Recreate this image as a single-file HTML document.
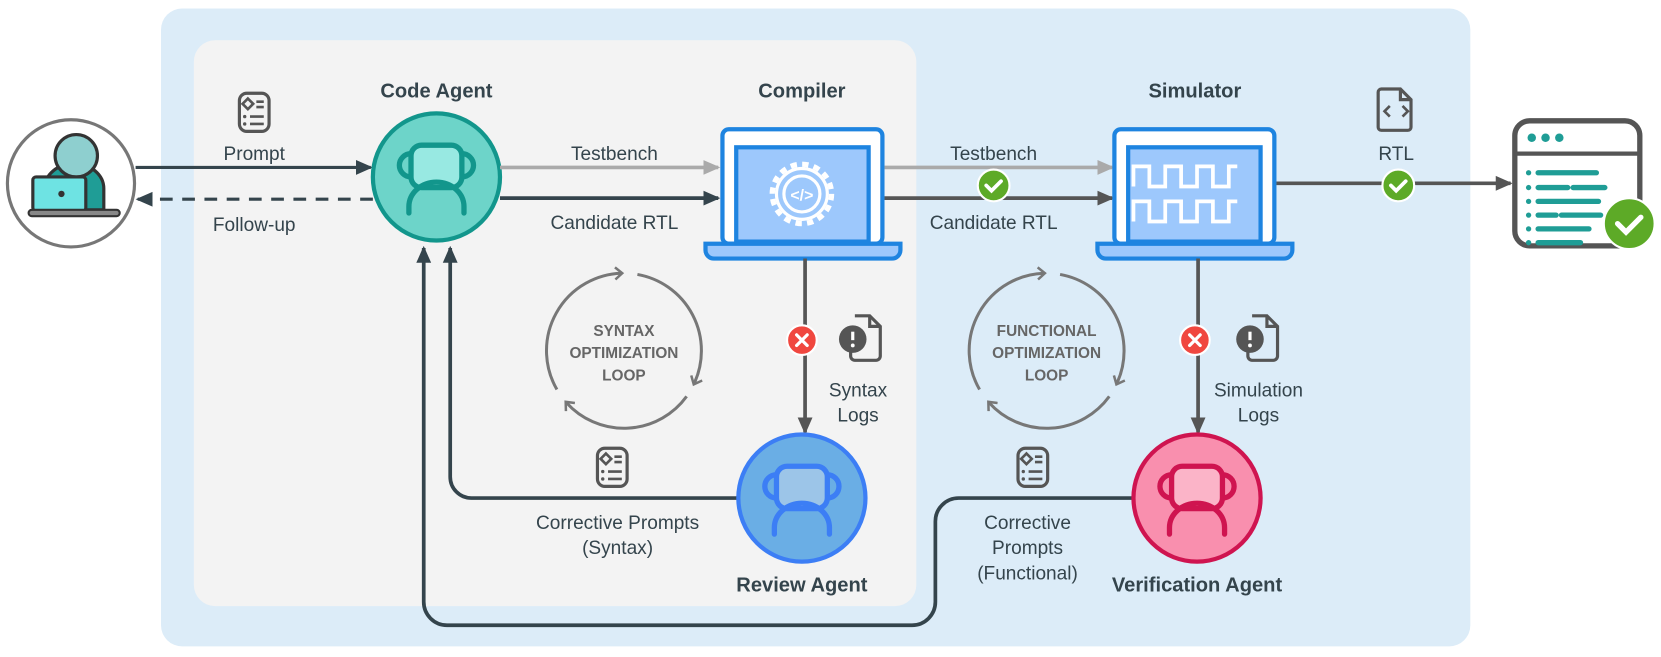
<!DOCTYPE html>
<html><head><meta charset="utf-8"><style>
html,body{margin:0;padding:0;background:#fff}
svg{display:block}
text{font-family:"Liberation Sans",sans-serif}
</style></head><body>
<svg width="1661" height="657" viewBox="0 0 1568 620" preserveAspectRatio="none" xmlns="http://www.w3.org/2000/svg">
<defs>
<marker id="ad" markerWidth="16" markerHeight="16" refX="14" refY="8" orient="auto" markerUnits="userSpaceOnUse" viewBox="0 0 16 16"><path d="M0,1L16,8L0,15z" fill="#34444c"/></marker>
<marker id="ag" markerWidth="16" markerHeight="16" refX="14" refY="8" orient="auto" markerUnits="userSpaceOnUse" viewBox="0 0 16 16"><path d="M0,1L16,8L0,15z" fill="#aaa"/></marker>
<marker id="am" markerWidth="16" markerHeight="16" refX="14" refY="8" orient="auto" markerUnits="userSpaceOnUse" viewBox="0 0 16 16"><path d="M0,1L16,8L0,15z" fill="#555"/></marker>
<marker id="al" markerWidth="14" markerHeight="14" refX="8" refY="7" orient="auto" markerUnits="userSpaceOnUse" viewBox="0 0 14 14"><path d="M2,1L9,7L2,13" fill="none" stroke="#777" stroke-width="2.5"/></marker>
<g id="prm"><rect x="-14" y="-17" width="28" height="36" rx="7" fill="none" stroke="#555" stroke-width="3"/><path d="M-6,-12 L-1,-7 L-6,-2 L-11,-7z" fill="none" stroke="#555" stroke-width="2.5"/><path d="M2,-9h7M2,-4h7M-4,5h13M-4,12h13" stroke="#555" stroke-width="2.5"/><circle cx="-9" cy="5" r="1.6" fill="#555"/><circle cx="-9" cy="12" r="1.6" fill="#555"/></g>
<g id="bot"><rect x="-24" y="-30" width="48" height="40" rx="10" fill="var(--f)" stroke="var(--s)" stroke-width="5"/><path d="M-24,-22a9,9 0 0 0 0,22M24,-22a9,9 0 0 1 0,22" fill="none" stroke="var(--s)" stroke-width="5"/><path d="M-26,34v-6a18,16 0 0 1 52,0v6" fill="none" stroke="var(--s)" stroke-width="5" stroke-linecap="round"/></g>
<g id="ok"><circle r="15" fill="#5daa27" stroke="#fff" stroke-width="2"/><path d="M-7,0l5,5l9,-9" fill="none" stroke="#fff" stroke-width="3.5" stroke-linecap="round"/></g>
<g id="no"><circle r="14" fill="#f0473f" stroke="#fff" stroke-width="2"/><path d="M-5,-5l10,10M5,-5l-10,10" stroke="#fff" stroke-width="3" stroke-linecap="round"/></g>
<g id="log"><path d="M-6,-20h14l10,10v28a4,4 0 0 1-4,4h-20a4,4 0 0 1-4,-4v-4" fill="none" stroke="#555" stroke-width="3"/><path d="M8,-20v10h10" fill="none" stroke="#555" stroke-width="3"/><circle cx="-8" cy="2" r="13" fill="#555"/><path d="M-8,-5v8" stroke="#fff" stroke-width="3"/><circle cx="-8" cy="8" r="1.8" fill="#fff"/></g>
<g id="loop" fill="none" stroke="#777" stroke-width="3">
<path d="M-66.6,38.5 A77,77 0 0 1 -2.7,-77" marker-end="url(#al)"/>
<path d="M13.4,-75.8 A77,77 0 0 1 69.8,32.5" marker-end="url(#al)"/>
<path d="M62.3,45.3 A77,77 0 0 1 -57.2,51.5" marker-end="url(#al)"/>
</g>
</defs>
<rect x="152" y="8" width="1236" height="602" rx="20" fill="#dcecf8"/>
<rect x="183" y="38" width="682" height="534" rx="20" fill="#f3f3f3"/>

<!-- user -->
<circle cx="67" cy="173" r="60" fill="#fff" stroke="#777" stroke-width="3"/>
<path d="M42,198v-20a26,22 0 0 1 56,0v20z" fill="#1f9d96" stroke="#333" stroke-width="3"/>
<circle cx="72" cy="147" r="20" fill="#8ecfcf" stroke="#333" stroke-width="3"/>
<rect x="31" y="167" width="50" height="32" rx="3" fill="#6ee3e3" stroke="#333" stroke-width="3"/>
<circle cx="58" cy="183" r="3" fill="#333"/>
<rect x="27" y="198" width="86" height="6" rx="3" fill="#888" stroke="#333" stroke-width="2"/>

<!-- left arrows -->
<line x1="128" y1="158" x2="350" y2="158" stroke="#34444c" stroke-width="3" marker-end="url(#ad)"/>
<line x1="352" y1="188" x2="130" y2="188" stroke="#34444c" stroke-width="3" stroke-dasharray="12,9" marker-end="url(#ad)"/>
<use href="#prm" x="240" y="105"/>
<text x="240" y="151" font-size="18" fill="#34444c" text-anchor="middle">Prompt</text>
<text x="240" y="218" font-size="18" fill="#34444c" text-anchor="middle">Follow-up</text>

<!-- code agent -->
<text x="412" y="92" font-size="19" font-weight="bold" fill="#34444c" text-anchor="middle">Code Agent</text>
<circle cx="412" cy="167" r="60" fill="#6dd4c9" stroke="#12968c" stroke-width="4"/>
<use href="#bot" x="412" y="167" style="--f:#98e9e2;--s:#12968c"/>

<line x1="472" y1="158" x2="678" y2="158" stroke="#aaa" stroke-width="3.5" marker-end="url(#ag)"/>
<line x1="472" y1="187" x2="678" y2="187" stroke="#34444c" stroke-width="3.5" marker-end="url(#ad)"/>
<text x="580" y="151" font-size="18" fill="#34444c" text-anchor="middle">Testbench</text>
<text x="580" y="216" font-size="18" fill="#34444c" text-anchor="middle">Candidate RTL</text>

<!-- compiler -->
<text x="757" y="92" font-size="19" font-weight="bold" fill="#34444c" text-anchor="middle">Compiler</text>
<rect x="682" y="122" width="151" height="108" rx="6" fill="#fff" stroke="#1e84e0" stroke-width="4"/>
<rect x="695" y="139" width="125" height="89" fill="#9dc8fc" stroke="#1e84e0" stroke-width="4"/>
<path d="M666,230h184v6a8,8 0 0 1-8,8h-168a8,8 0 0 1-8,-8z" fill="#9dc8fc" stroke="#1e84e0" stroke-width="4"/>
<circle cx="757" cy="183" r="28" fill="none" stroke="#fff" stroke-width="5" stroke-dasharray="6,5"/>
<circle cx="757" cy="183" r="24" fill="none" stroke="#fff" stroke-width="3"/>
<circle cx="757" cy="183" r="17" fill="none" stroke="#fff" stroke-width="3"/>
<text x="757" y="189" font-size="15" font-weight="bold" fill="#fff" text-anchor="middle">&lt;/&gt;</text>

<line x1="835" y1="158" x2="1050" y2="158" stroke="#aaa" stroke-width="3.5" marker-end="url(#ag)"/>
<line x1="835" y1="187" x2="1050" y2="187" stroke="#555" stroke-width="3.5" marker-end="url(#am)"/>
<text x="938" y="151" font-size="18" fill="#34444c" text-anchor="middle">Testbench</text>
<text x="938" y="216" font-size="18" fill="#34444c" text-anchor="middle">Candidate RTL</text>
<use href="#ok" x="938" y="175"/>

<!-- simulator -->
<text x="1128" y="92" font-size="19" font-weight="bold" fill="#34444c" text-anchor="middle">Simulator</text>
<rect x="1052" y="122" width="151" height="108" rx="6" fill="#fff" stroke="#1e84e0" stroke-width="4"/>
<rect x="1065" y="139" width="125" height="89" fill="#9dc8fc" stroke="#1e84e0" stroke-width="4"/>
<path d="M1036,230h184v6a8,8 0 0 1-8,8h-168a8,8 0 0 1-8,-8z" fill="#9dc8fc" stroke="#1e84e0" stroke-width="4"/>
<path d="M1070,176v-19h15v19h15v-19h15v19h15v-19h15v19h15v-19h8" fill="none" stroke="#fff" stroke-width="3.5"/>
<path d="M1070,209v-19h15v19h15v-19h15v19h15v-19h15v19h15v-19h8" fill="none" stroke="#fff" stroke-width="3.5"/>

<line x1="1205" y1="173" x2="1426" y2="173" stroke="#555" stroke-width="3.5" marker-end="url(#am)"/>
<text x="1318" y="151" font-size="18" fill="#34444c" text-anchor="middle">RTL</text>
<use href="#ok" x="1320" y="175"/>
<path d="M1304,84h18l10,10v26a3,3 0 0 1-3,3h-25a3,3 0 0 1-3,-3v-33a3,3 0 0 1 3,-3z M1322,84v10h10" fill="none" stroke="#555" stroke-width="3"/>
<path d="M1312,100l-5,5l5,5M1324,100l5,5l-5,5" fill="none" stroke="#555" stroke-width="2.5"/>

<!-- output window -->
<rect x="1430" y="114" width="118" height="118" rx="14" fill="#fff" stroke="#555" stroke-width="5"/>
<line x1="1430" y1="145" x2="1548" y2="145" stroke="#555" stroke-width="4"/>
<circle cx="1446" cy="130" r="4" fill="#1f9d96"/><circle cx="1459" cy="130" r="4" fill="#1f9d96"/><circle cx="1472" cy="130" r="4" fill="#1f9d96"/>
<g stroke="#1f9d96" stroke-width="5" stroke-linecap="round">
<path d="M1452,163h55M1452,177h28M1485,177h30M1452,190h57M1452,203h17M1474,203h37M1452,216h48M1452,229h40"/>
</g>
<g fill="#1f9d96"><circle cx="1443" cy="163" r="2.5"/><circle cx="1443" cy="177" r="2.5"/><circle cx="1443" cy="190" r="2.5"/><circle cx="1443" cy="203" r="2.5"/><circle cx="1443" cy="216" r="2.5"/><circle cx="1443" cy="229" r="2.5"/></g>
<circle cx="1538" cy="211" r="24" fill="#5daa27" stroke="#fff" stroke-width="2"/>
<path d="M1527,211l8,8l14,-14" fill="none" stroke="#fff" stroke-width="5" stroke-linecap="round"/>

<!-- syntax loop -->
<use href="#loop" transform="translate(589,331) scale(0.95)"/>
<text font-size="14.5" font-weight="bold" fill="#666" text-anchor="middle"><tspan x="589" y="317">SYNTAX</tspan><tspan x="589" y="338">OPTIMIZATION</tspan><tspan x="589" y="359">LOOP</tspan></text>

<!-- functional loop -->
<use href="#loop" transform="translate(988,331) scale(0.95)"/>
<text font-size="14.5" font-weight="bold" fill="#666" text-anchor="middle"><tspan x="988" y="317">FUNCTIONAL</tspan><tspan x="988" y="338">OPTIMIZATION</tspan><tspan x="988" y="359">LOOP</tspan></text>

<!-- compiler down -->
<line x1="760" y1="244" x2="760" y2="408" stroke="#555" stroke-width="3.5" marker-end="url(#am)"/>
<use href="#no" x="757" y="321"/>
<use href="#log" x="813" y="318"/>
<text x="810" y="374" font-size="18" fill="#34444c" text-anchor="middle">Syntax</text>
<text x="810" y="398" font-size="18" fill="#34444c" text-anchor="middle">Logs</text>

<line x1="1131" y1="244" x2="1131" y2="408" stroke="#555" stroke-width="3.5" marker-end="url(#am)"/>
<use href="#no" x="1128" y="321"/>
<use href="#log" x="1188" y="318"/>
<text x="1188" y="374" font-size="18" fill="#34444c" text-anchor="middle">Simulation</text>
<text x="1188" y="398" font-size="18" fill="#34444c" text-anchor="middle">Logs</text>

<!-- feedback paths -->
<path d="M697,470H445a20,20 0 0 1-20,-20V234" fill="none" stroke="#34444c" stroke-width="3.5" marker-end="url(#ad)"/>
<path d="M1070,470H905a22,22 0 0 0-22,22V568a22,22 0 0 1-22,22H422a22,22 0 0 1-22,-22V234" fill="none" stroke="#34444c" stroke-width="3.5" marker-end="url(#ad)"/>
<use href="#prm" x="578" y="440"/>
<text x="583" y="499" font-size="18" fill="#34444c" text-anchor="middle">Corrective Prompts</text>
<text x="583" y="523" font-size="18" fill="#34444c" text-anchor="middle">(Syntax)</text>
<use href="#prm" x="975" y="440"/>
<text font-size="18" fill="#34444c" text-anchor="middle"><tspan x="970" y="499">Corrective</tspan><tspan x="970" y="523">Prompts</tspan><tspan x="970" y="547">(Functional)</tspan></text>

<!-- review agent -->
<circle cx="757" cy="470" r="60" fill="#6aaee5" stroke="#3c7ef5" stroke-width="4"/>
<use href="#bot" x="757" y="470" style="--f:#9cc5e8;--s:#3c7ef5"/>
<text x="757" y="558" font-size="19" font-weight="bold" fill="#34444c" text-anchor="middle">Review Agent</text>

<circle cx="1130" cy="470" r="60" fill="#f98fae" stroke="#cf1450" stroke-width="4"/>
<use href="#bot" x="1130" y="470" style="--f:#fbb4c8;--s:#cf1450"/>
<text x="1130" y="558" font-size="19" font-weight="bold" fill="#34444c" text-anchor="middle">Verification Agent</text>
</svg>
</body></html>
